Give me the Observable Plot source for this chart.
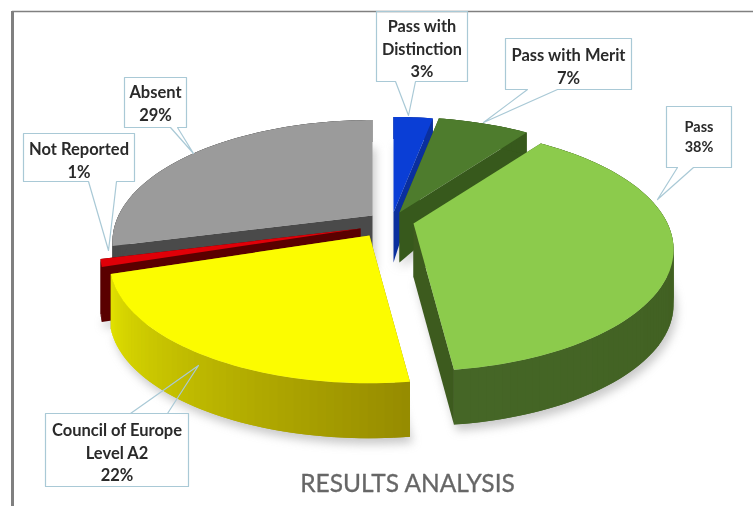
<!DOCTYPE html>
<html>
<head>
<meta charset="utf-8">
<script src="https://cdn.jsdelivr.net/npm/d3@7"></script>
<script src="https://cdn.jsdelivr.net/npm/@observablehq/plot@0.6"></script>
<style>
html,body{margin:0;padding:0;background:#fff}
svg{display:block}
</style>
</head>
<body>
<div id="chart"></div>
<script>
// --- data (clockwise from 12 o'clock)
const categories = ["Pass with Distinction", "Pass with Merit", "Pass", "Council of Europe Level A2", "Not Reported", "Absent"];
const percents = [3, 7, 38, 22, 1, 29];
const labelLines = ["Pass with\nDistinction", "Pass with Merit", "Pass", "Council of Europe\nLevel A2", "Not Reported", "Absent"];
const chartTitle = "RESULTS ANALYSIS";

// --- styles
const topColors = ["#0a3ed6", "#4e7c2d", "#8ccb4c", "#fcfc00", "#e00008", "#9b9b9b"];
const sideLight = ["#0a2f9e", "#37591c", "#456626", "#e0e000", "#5a0000", "#4a4a4a"];
const sideDark  = ["#0a2f9e", "#37591c", "#3d5b1e", "#958a00", "#5a0000", "#4a4a4a"];
const labelSize = [16.3, 16.5, 14.5, 16.5, 16.5, 16.5];

// --- layout: where each exploded slice's apex sits, and the perspective of the disc
const apexX = [393, 399, 413, 369, 360, 372];
const apexY = [212, 212, 223, 235, 228, 215];
const paintOrder = [5, 4, 3, 0, 1, 2];
const discRx = 254, discRy = 116, persp = 0.215;
const depth = y => Math.max(22, Math.min(55, 22 + (y - 132) * 0.35));

// callouts: box [x1,y1,x2,y2], tail base [xa,xb], tail tip [x,y]
const boxes = [[376,11,467,81],[505,38,631,89],[666,106,731,167],[45,413,188,486],[23,133,134,181],[124,77,186,127]];
const tailBase = [[395,415],[527,557],[677,693],[130,167],[88,116],[170,177]];
const tailTip = [[408,115],[483,122],[657,199],[198,365],[108,250],[193,153]];
const labelY = [47,65,135,451,159,102];

// --- geometry derived from the values
const total = d3.sum(percents);
const ends = d3.cumsum(percents).map(v => v / total * 2 * Math.PI);
const starts = ends.map((_, i) => i ? ends[i - 1] : 0);
const project = (t, i) => {
  const X = Math.sin(t), Y = Math.cos(t), d = 1 + persp * Y;
  return [apexX[i] + discRx * X / d, apexY[i] - discRy * Y / d];
};
const down = ([x, y]) => [x, y + depth(y)];

const polys = [];
const shadows = [];
let id = 0;
const addPoly = (pts, color, rows = polys) => {
  const z = id++;
  for (const [x, y] of pts) rows.push({x, y, z, color});
};
for (const i of paintOrder) {
  const a = starts[i], b = ends[i];
  const n = Math.max(2, Math.ceil((b - a) / (1.5 * Math.PI / 180)));
  const ts = d3.range(n + 1).map(k => a + (b - a) * k / n);
  const apex = [apexX[i], apexY[i]];
  const rim = ts.map(t => project(t, i));
  // shadow under the slice
  addPoly([down(apex), ...rim.map(down)].map(([x, y]) => [x + 3, y + 6]), "#777", shadows);
  // radial faces
  addPoly([apex, rim[0], down(rim[0]), down(apex)], sideDark[i]);
  addPoly([apex, rim[n], down(rim[n]), down(apex)], sideDark[i]);
  // rim: overlapping shaded strips, painted from the far end so no seams show
  const shade = d3.interpolateRgb(sideLight[i], sideDark[i]);
  for (let k = 0; k < n; k++) {
    const f = 1 - k / (n - 1 || 1);
    const k2 = Math.max(0, k - 1);
    addPoly([rim[k2], rim[k + 1], down(rim[k + 1]), down(rim[k2])], shade(f));
  }
  // top face
  addPoly([apex, ...rim], topColors[i]);
}

// callout shapes
const callouts = [];
boxes.forEach(([x1, y1, x2, y2], i) => {
  const [xa, xb] = tailBase[i], [tx, ty] = tailTip[i];
  const pts = [[x1, y1], [x2, y1]];
  if (ty > y2) pts.push([x2, y2], [xb, y2], [tx, ty], [xa, y2], [x1, y2]);
  else pts.push([x2, y2], [x1, y2], [x1, y1], [xa, y1], [tx, ty], [xb, y1]);
  for (const [x, y] of pts) callouts.push({x, y, i});
});
const labels = categories.map((c, i) => ({
  text: labelLines[i] + "\n" + percents[i] + "%",
  x: (boxes[i][0] + boxes[i][2]) / 2,
  y: labelY[i],
  size: labelSize[i]
}));

const fill = {value: "color", scale: null};
const chart = Plot.plot({
  width: 753, height: 506,
  margin: 0,
  x: {domain: [0, 753], range: [0, 753], axis: null},
  y: {domain: [0, 506], range: [0, 506], axis: null},
  style: {background: "#fff", filter: "blur(0.7px)"},
  marks: [
    Plot.ruleY([11], {x1: 12, x2: 753, stroke: "#808080", strokeWidth: 1.5}),
    Plot.ruleX([12], {y1: 11, y2: 506, stroke: "#808080", strokeWidth: 3}),
    Plot.line(shadows, {x: "x", y: "y", z: "z", fill: "#777", stroke: "none", curve: "linear-closed", fillOpacity: 0.4, imageFilter: "blur(5px)"}),
    Plot.line(polys, {x: "x", y: "y", z: "z", fill, stroke: "none", curve: "linear-closed"}),
    Plot.line(callouts, {x: "x", y: "y", z: "i", fill: "none", stroke: "#a9c9d6", strokeWidth: 1.2, curve: "linear-closed"}),
    Plot.text(labels, {x: "x", y: "y", text: "text", fill: "#2a2a2a", fontFamily: "Lato", fontWeight: 700, fontSize: "size", lineHeight: 1.36}),
    Plot.text([chartTitle], {x: [407], y: [484], text: d => d, fill: "#666", stroke: "#666", strokeWidth: 0.3, fontFamily: "Lato", fontSize: 24.5})
  ]
});
document.getElementById("chart").append(chart);
</script>
</body>
</html>
